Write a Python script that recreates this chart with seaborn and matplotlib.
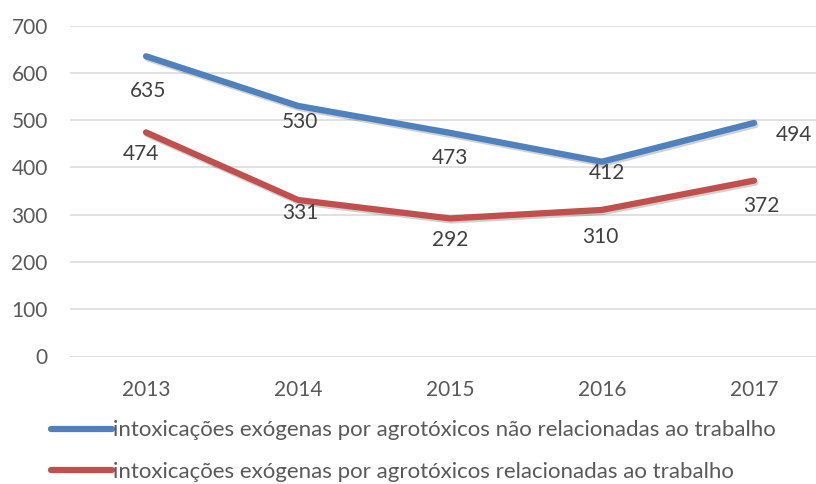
import matplotlib
matplotlib.use("Agg")
import matplotlib.pyplot as plt
import matplotlib.patheffects as pe
import pandas as pd
import seaborn as sns

years = ["2013", "2014", "2015", "2016", "2017"]
nao_relacionadas = [635, 530, 473, 412, 494]
relacionadas = [474, 331, 292, 310, 372]
series_names = [
    "intoxicações exógenas por agrotóxicos não relacionadas ao trabalho",
    "intoxicações exógenas por agrotóxicos relacionadas ao trabalho",
]
y_ticks = [0, 100, 200, 300, 400, 500, 600, 700]

# label offsets (pixels) relative to each point, as in the original
label_offsets = [
    [(2, -35), (2, -16), (0, -25), (5, -11), (40, -12)],
    [(-5, -22), (2, -13), (0, -22), (-2, -27), (7, -25)],
]

colors = ["#4F81BD", "#C0504D"]
text_color = "#595959"

df = pd.DataFrame({
    "year": years * 2,
    "value": nao_relacionadas + relacionadas,
    "serie": [series_names[0]] * len(years) + [series_names[1]] * len(years),
})

sns.set_style("white")
plt.rcParams["font.family"] = ["Lato", "DejaVu Sans"]

fig = plt.figure(figsize=(8.16, 4.84), dpi=100)
ax = fig.add_axes([70 / 816, 127.5 / 484, 760 / 816, 331 / 484])

sns.lineplot(data=df, x="year", y="value", hue="serie", palette=colors,
             linewidth=4.5, ax=ax, sort=False, legend=True)

for line in ax.get_lines():
    line.set_solid_capstyle("round")
    line.set_solid_joinstyle("round")

ax.set_xlim(-0.5, 4.5)
ax.set_ylim(0, 700)
ax.set_yticks(y_ticks)
ax.yaxis.grid(True, color="#D9D9D9", linewidth=1.1)
ax.set_axisbelow(True)
for s in ax.spines.values():
    s.set_visible(False)
ax.set_xlabel("")
ax.set_ylabel("")
ax.tick_params(axis="y", length=0, pad=16, labelsize=15, labelcolor=text_color)
ax.tick_params(axis="x", length=0, pad=17, labelsize=15, labelcolor=text_color)

# data labels
for vals, offs in zip([nao_relacionadas, relacionadas], label_offsets):
    for i, (v, (dx, dy)) in enumerate(zip(vals, offs)):
        ax.annotate(str(v), (i, v), xytext=(dx, dy), textcoords="offset pixels",
                    ha="center", va="center", fontsize=15, color="#404040")

leg = ax.legend(loc="center left", bbox_to_anchor=(40 / 816, 1 - 451 / 484),
                bbox_transform=fig.transFigure, frameon=False, borderpad=0,
                handlelength=2.75, handletextpad=0.05, labelspacing=0.95,
                fontsize=16)
for t in leg.get_texts():
    t.set_color(text_color)
for h in leg.get_lines():
    h.set_linewidth(4.5)
    h.set_solid_capstyle("round")

shadow = [pe.SimpleLineShadow(offset=(1, -1.5), shadow_color="black", alpha=0.18),
          pe.Normal()]
for line in ax.get_lines():
    line.set_path_effects(shadow)

fig.savefig("out.png", dpi=100)
